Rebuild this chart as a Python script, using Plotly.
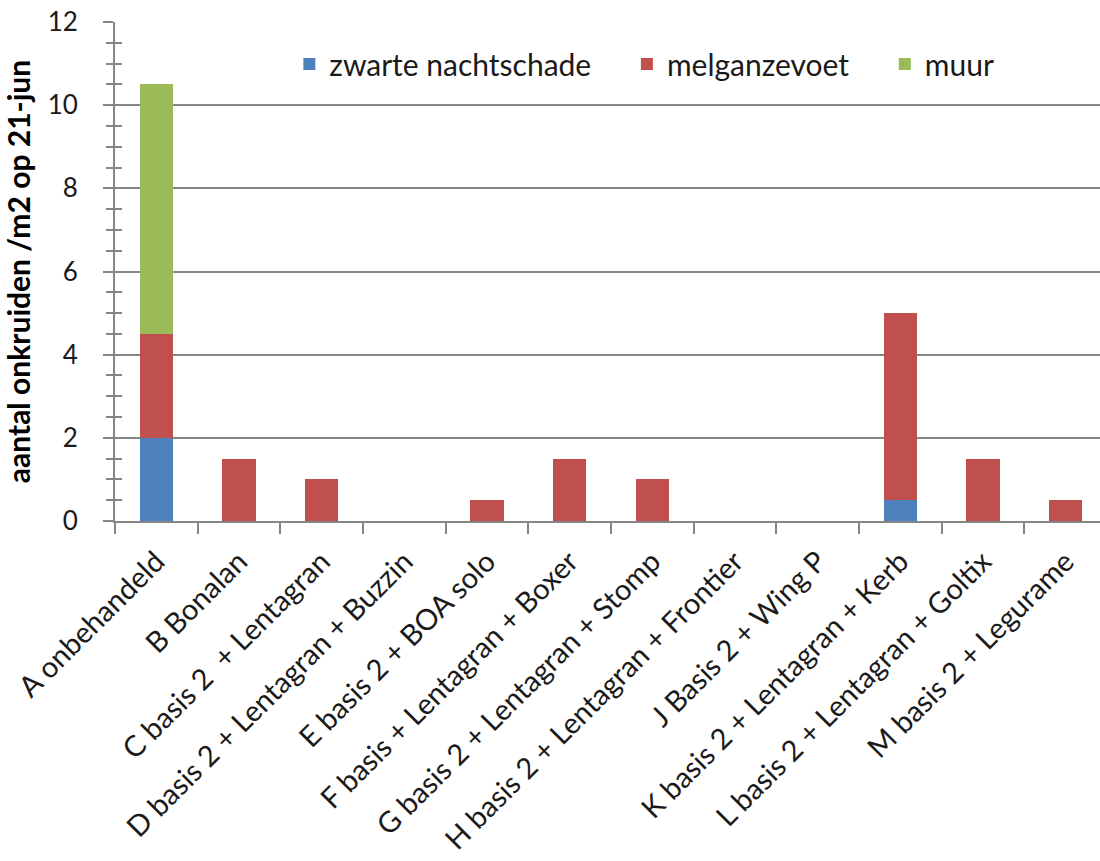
import plotly.graph_objects as go

# Treatments (x-axis categories)
categories = [
    "A onbehandeld",
    "B Bonalan",
    "C basis 2\u00a0 + Lentagran",
    "D basis 2 + Lentagran + Buzzin",
    "E basis 2 + BOA solo",
    "F basis + Lentagran + Boxer",
    "G basis 2 + Lentagran + Stomp",
    "H basis 2 + Lentagran + Frontier",
    "J Basis 2 + Wing P",
    "K basis 2 + Lentagran + Kerb",
    "L basis 2 + Lentagran + Goltix",
    "M basis 2 + Legurame",
]

# Weed counts per m2 on 21 June, per species
zwarte_nachtschade = [2.0, 0, 0, 0, 0, 0, 0, 0, 0, 0.5, 0, 0]
melganzevoet = [2.5, 1.5, 1.0, 0, 0.5, 1.5, 1.0, 0, 0, 4.5, 1.5, 0.5]
muur = [6.0, 0, 0, 0, 0, 0, 0, 0, 0, 0, 0, 0]

y_ticks = [0, 2, 4, 6, 8, 10, 12]

series = [
    ("zwarte nachtschade", zwarte_nachtschade, "#4F81BD"),
    ("melganzevoet", melganzevoet, "#C0504D"),
    ("muur", muur, "#9BBB59"),
]

FONT = "Lato, 'Open Sans', sans-serif"
AXIS_GREY = "#868686"
TEXT = "#1a1a1a"
LEGEND_PAD = "\u00a0" * 4  # extra room between legend entries

fig = go.Figure()
for name, values, color in series:
    fig.add_trace(go.Bar(
        x=categories, y=values, name=name + LEGEND_PAD,
        marker=dict(color=color, line=dict(width=0)),
    ))

# invisible trace that anchors the overlay axis used for the inner half of the tick marks
fig.add_trace(go.Scatter(x=categories, y=[None] * len(categories), yaxis="y2",
                         showlegend=False, hoverinfo="skip", mode="markers"))

fig.update_layout(
    width=1100, height=861,
    margin=dict(l=115, r=0, t=22, b=340),
    paper_bgcolor="white", plot_bgcolor="white",
    barmode="stack", bargap=0.6,
    font=dict(family=FONT, size=26, color=TEXT),
    legend=dict(
        orientation="h", traceorder="normal",
        x=0.177, y=0.916, xanchor="left", yanchor="middle",
        font=dict(family=FONT, size=30, color=TEXT),
        bgcolor="rgba(0,0,0,0)", itemclick=False,
    ),
    xaxis=dict(
        type="category", tickangle=-45, tickson="boundaries",
        range=[-0.5, 11.415],
        ticks="outside", ticklen=11, tickwidth=2, tickcolor=AXIS_GREY,
        ticklabelstandoff=10,
        showline=True, linecolor=AXIS_GREY, linewidth=2,
        showgrid=False, zeroline=False, automargin=False,
        tickfont=dict(family=FONT, size=29, color=TEXT),
    ),
    yaxis=dict(
        range=[0, 12], tickvals=y_ticks,
        ticks="outside", ticklen=10, tickwidth=2, tickcolor=AXIS_GREY,
        ticklabelstandoff=20,
        minor=dict(dtick=0.5, ticks="outside", ticklen=7, tickwidth=2,
                   tickcolor=AXIS_GREY, showgrid=False),
        showline=True, linecolor=AXIS_GREY, linewidth=2,
        showgrid=True, gridcolor=AXIS_GREY, gridwidth=2,
        zeroline=False, automargin=False,
        tickfont=dict(family=FONT, size=26, color=TEXT),
        title=dict(text="<b>aantal onkruiden /m2 op 21-jun</b>",
                   font=dict(family=FONT, size=30, color="#000000"),
                   standoff=16),
    ),
    yaxis2=dict(
        overlaying="y", side="left", range=[0, 12], tickvals=y_ticks,
        ticks="inside", ticklen=7, tickwidth=2, tickcolor=AXIS_GREY,
        minor=dict(dtick=0.5, ticks="inside", ticklen=7, tickwidth=2,
                   tickcolor=AXIS_GREY, showgrid=False),
        showticklabels=False, showgrid=False, zeroline=False, showline=False,
        automargin=False,
    ),
)

fig.write_html("out.html")
